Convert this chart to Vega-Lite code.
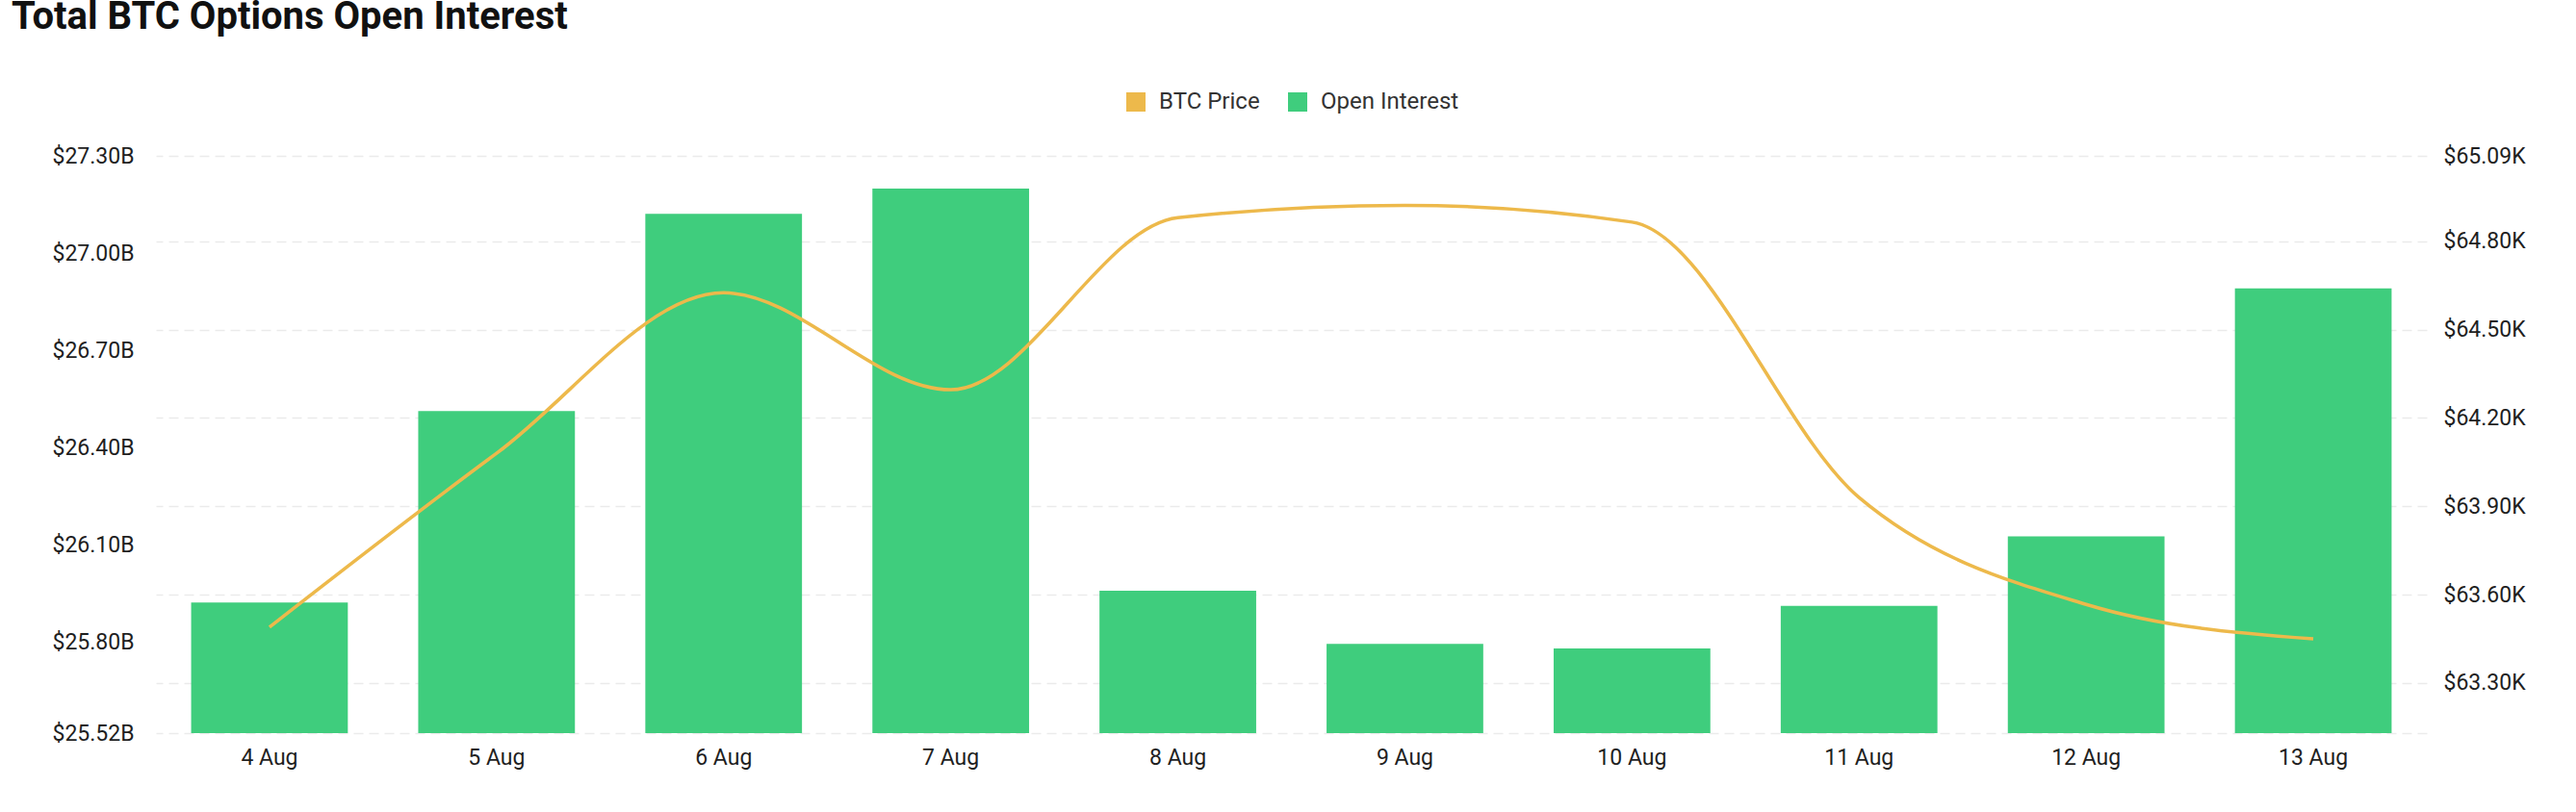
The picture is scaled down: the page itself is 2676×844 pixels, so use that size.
{
  "$schema": "https://vega.github.io/schema/vega-lite/v6.json",
  "description": "Total BTC options open interest with BTC price, 4-13 Aug.",
  "autosize": {"type": "none"},
  "width": 2359,
  "height": 600,
  "padding": {"left": 162, "top": 162, "right": 155, "bottom": 82},
  "background": "#ffffff",
  "title": {
    "text": "Total BTC Options Open Interest",
    "anchor": "start",
    "frame": "group",
    "font": "Roboto",
    "fontSize": 40,
    "fontWeight": "bold",
    "color": "#111111",
    "dx": -150,
    "offset": 56
  },
  "config": {
    "view": {"stroke": null},
    "font": "Roboto",
    "axis": {
      "labelFont": "Roboto",
      "labelFontSize": 23,
      "labelColor": "#1f1f1f",
      "ticks": false,
      "domain": false,
      "title": null
    },
    "legend": {
      "labelFont": "Roboto",
      "labelFontSize": 24,
      "labelColor": "#333333"
    }
  },
  "data": {
    "values": [
      {"day": "4 Aug", "oi": 25.923, "price": 63.49},
      {"day": "5 Aug", "oi": 26.513, "price": 64.08},
      {"day": "6 Aug", "oi": 27.121, "price": 64.625},
      {"day": "7 Aug", "oi": 27.199, "price": 64.296},
      {"day": "8 Aug", "oi": 25.959, "price": 64.88},
      {"day": "9 Aug", "oi": 25.795, "price": 64.922},
      {"day": "10 Aug", "oi": 25.781, "price": 64.865},
      {"day": "11 Aug", "oi": 25.912, "price": 63.93},
      {"day": "12 Aug", "oi": 26.127, "price": 63.567},
      {"day": "13 Aug", "oi": 26.891, "price": 63.45}
    ]
  },
  "encoding": {
    "x": {
      "field": "day",
      "type": "nominal",
      "sort": null,
      "scale": {"paddingInner": 0.31, "paddingOuter": 0.155},
      "axis": {"labelAngle": 0, "labelPadding": 14, "grid": false}
    }
  },
  "layer": [
    {
      "mark": {"type": "bar", "clip": true},
      "encoding": {
        "y": {
          "field": "oi",
          "type": "quantitative",
          "scale": {"domain": [25.52, 27.3], "zero": false, "nice": false},
          "axis": {
            "orient": "left",
            "grid": false,
            "values": [25.52, 25.8, 26.1, 26.4, 26.7, 27.0, 27.3],
            "labelExpr": "'$' + format(datum.value, '.2f') + 'B'",
            "labelPadding": 23
          }
        },
        "color": {
          "datum": "Open Interest",
          "scale": {
            "domain": ["BTC Price", "Open Interest"],
            "range": ["#edb94b", "#3fcd7d"]
          },
          "legend": {
            "orient": "none",
            "legendX": 1006,
            "legendY": -68,
            "direction": "horizontal",
            "title": null,
            "symbolType": "square",
            "symbolSize": 400,
            "symbolStrokeWidth": 0,
            "symbolOpacity": 1,
            "labelOffset": 12,
            "columnPadding": 27,
            "encode": {
              "symbols": {
                "update": {
                  "fill": {"scale": "color", "field": "value"},
                  "fillOpacity": {"value": 1},
                  "strokeWidth": {"value": 0}
                }
              }
            }
          }
        }
      }
    },
    {
      "mark": {"type": "line", "interpolate": "monotone", "strokeWidth": 3.5},
      "encoding": {
        "y": {
          "field": "price",
          "type": "quantitative",
          "scale": {"domain": [63.13, 65.09], "zero": false, "nice": false},
          "axis": {
            "orient": "right",
            "grid": true,
            "gridColor": "#ebebeb",
            "gridWidth": 1.5,
            "gridDash": [10, 6],
            "values": [63.13, 63.3, 63.6, 63.9, 64.2, 64.5, 64.8, 65.09],
            "labelExpr": "datum.value < 63.2 ? '' : '$' + format(datum.value, '.2f') + 'K'",
            "labelPadding": 17
          }
        },
        "color": {"datum": "BTC Price"}
      }
    }
  ],
  "resolve": {"scale": {"y": "independent"}}
}
